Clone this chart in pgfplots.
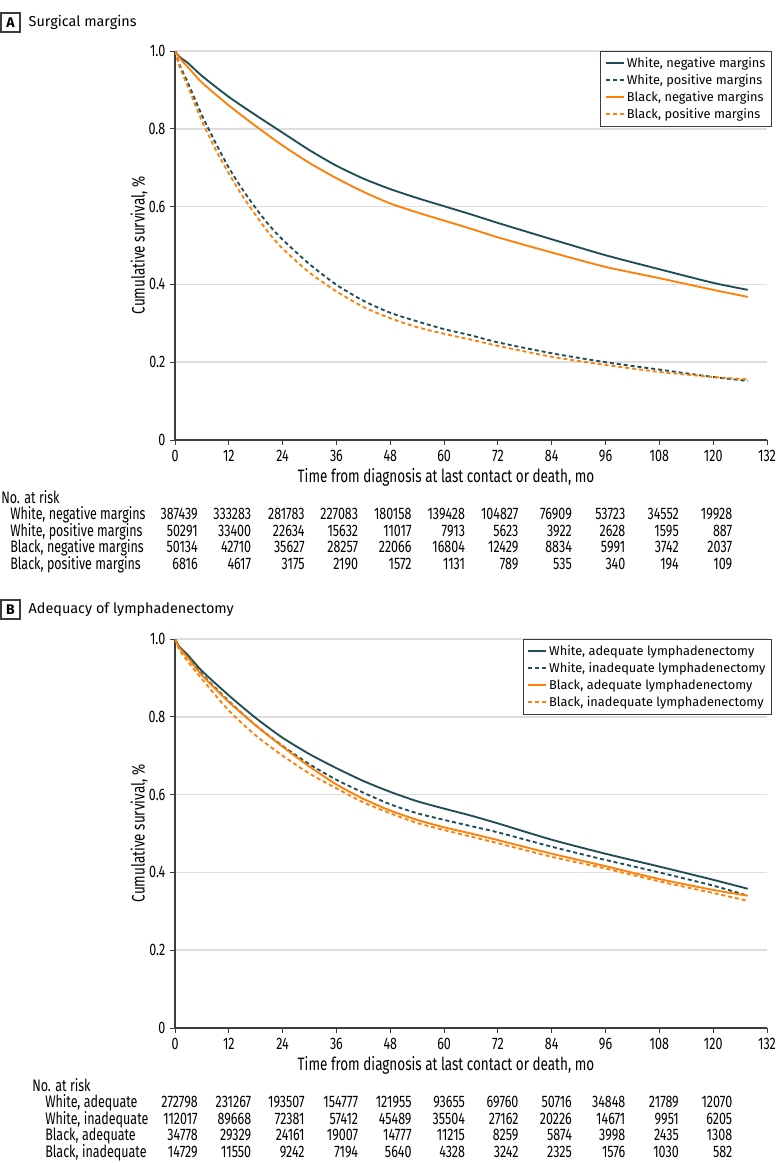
\documentclass[border=0pt]{standalone}
\usepackage{pgfplots}
\pgfplotsset{compat=1.18}
\usepackage{fontspec}
\setmainfont{Fira Sans}
\newfontfamily\condfont[FakeStretch=0.75]{Fira Sans}
\definecolor{wcol}{RGB}{32,78,86}
\definecolor{bcol}{RGB}{255,128,8}
\definecolor{gridc}{RGB}{222,222,222}
\definecolor{axc}{RGB}{60,60,60}
\newcommand\tfont{\condfont\fontsize{12.5}{13}\selectfont}
\newcommand\lfont{\condfont\fontsize{13.5}{14}\selectfont}

\pgfplotsset{
  kmstyle/.style={
    scale only axis, width=444pt, height=291.75pt,
    xmin=0, xmax=132, ymin=0, ymax=1,
    axis x line*=bottom, axis y line*=left,
    axis line style={axc, line width=0.8pt},
    xtick={0,12,...,132},
    xticklabels={0,12,24,36,48,60,72,84,96,108,120,132},
    ytick={0,0.2,0.4,0.6,0.8,1.0},
    yticklabels={0,0.2,0.4,0.6,0.8,1.0},
    /pgf/number format/assume math mode=true,
    tick align=outside, major tick length=3.75pt,
    tick style={axc, line width=0.7pt},
    ticklabel style={font=\tfont, text=black},
    ymajorgrids, grid style={gridc, line width=1.1pt},
    legend cell align=left,
    legend style={anchor=north east, at={(rel axis cs:1.0084,1)},
      draw=axc, line width=0.6pt, font=\fontsize{9.6}{11}\selectfont,
      inner xsep=3pt, inner ysep=3pt, row sep=0.6pt,
      nodes={inner sep=1.6pt}},
    legend image code/.code={\draw[#1, line width=1.6pt] (0pt,0.3pt) -- (13.5pt,0.3pt);},
  },
  wsolid/.style={wcol, line width=1.4pt, smooth, tension=0.4},
  wdash/.style={wcol, line width=1.4pt, dash pattern=on 3pt off 2.2pt, smooth, tension=0.4},
  bsolid/.style={bcol, line width=1.4pt, smooth, tension=0.4},
  bdash/.style={bcol, line width=1.4pt, dash pattern=on 3pt off 2.2pt, smooth, tension=0.4},
}

\begin{document}
\begin{tikzpicture}[x=0.75pt, y=-0.75pt]
\path[use as bounding box] (0,0) rectangle (783,1163);

% ---------------- Panel A ----------------
\draw[axc, line width=0.8pt] (1,13) rectangle (20,32);
\node[font=\bfseries\fontsize{10.5}{12}\selectfont] at (10.5,22.5) {A};
\node[anchor=west, font=\fontsize{10.8}{12}\selectfont] at (24,22.5) {Surgical margins};

\begin{axis}[kmstyle, at={(131.25pt,-330pt)}, anchor=south west]
\addplot[wsolid] coordinates {(0,1.0) (1,0.985) (3,0.968) (6,0.936) (12,0.882) (18,0.835) (24,0.790) (30,0.745) (36,0.705) (42,0.672) (48,0.645) (54,0.622) (60,0.601) (66,0.580) (72,0.558) (84,0.516) (96,0.475) (108,0.439) (120,0.404) (127.7,0.386)};
\addlegendentry{White, negative margins}
\addplot[wdash] coordinates {(0,1.0) (1,0.965) (3,0.915) (6,0.835) (9,0.765) (12,0.700) (15,0.645) (18,0.596) (21,0.552) (24,0.515) (30,0.452) (36,0.399) (42,0.358) (48,0.327) (54,0.305) (60,0.285) (66,0.269) (72,0.251) (84,0.223) (96,0.200) (108,0.181) (120,0.162) (127.7,0.152)};
\addlegendentry{White, positive margins}
\addplot[bsolid] coordinates {(0,1.0) (1,0.982) (3,0.957) (6,0.919) (12,0.860) (18,0.807) (24,0.757) (30,0.712) (36,0.673) (42,0.638) (48,0.608) (54,0.585) (60,0.564) (66,0.543) (72,0.521) (84,0.482) (96,0.445) (108,0.416) (120,0.386) (127.7,0.368)};
\addlegendentry{Black, negative margins}
\addplot[bdash] coordinates {(0,1.0) (1,0.960) (3,0.905) (6,0.820) (9,0.748) (12,0.685) (15,0.628) (18,0.578) (21,0.531) (24,0.492) (30,0.430) (36,0.382) (42,0.342) (48,0.313) (54,0.290) (60,0.273) (66,0.258) (72,0.242) (84,0.214) (96,0.193) (108,0.175) (120,0.162) (127.7,0.156)};
\addlegendentry{Black, positive margins}
\end{axis}

\node[rotate=90, font=\lfont] at (139,245.5) {Cumulative survival, \%};
\node[font=\lfont] at (446,477) {Time from diagnosis at last contact or death, mo};

\begin{scope}[every node/.style={font=\tfont, inner sep=0pt}]
\node[anchor=base west] at (1,503) {No. at risk};
\node[anchor=base west] at (10,519.5) {White, negative margins};
\node[anchor=base west] at (10,536) {White, positive margins};
\node[anchor=base west] at (10,552.5) {Black, negative margins};
\node[anchor=base west] at (10,569) {Black, positive margins};
\foreach \v [count=\i from 0] in {387439,333283,281783,227083,180158,139428,104827,76909,53723,34552,19928}
  \node[anchor=base east] at ({198+53.45*\i},519.5) {\v};
\foreach \v [count=\i from 0] in {50291,33400,22634,15632,11017,7913,5623,3922,2628,1595,887}
  \node[anchor=base east] at ({198+53.45*\i},536) {\v};
\foreach \v [count=\i from 0] in {50134,42710,35627,28257,22066,16804,12429,8834,5991,3742,2037}
  \node[anchor=base east] at ({198+53.45*\i},552.5) {\v};
\foreach \v [count=\i from 0] in {6816,4617,3175,2190,1572,1131,789,535,340,194,109}
  \node[anchor=base east] at ({198+53.45*\i},569) {\v};
\end{scope}

% ---------------- Panel B ----------------
\draw[axc, line width=0.8pt] (1,600) rectangle (20,619);
\node[font=\bfseries\fontsize{10.5}{12}\selectfont] at (10.5,609.5) {B};
\node[anchor=west, font=\fontsize{10.8}{12}\selectfont] at (24,609.5) {Adequacy of lymphadenectomy};

\begin{axis}[kmstyle, at={(131.25pt,-771pt)}, anchor=south west]
\addplot[wsolid] coordinates {(0,1.0) (1,0.980) (3,0.957) (6,0.918) (12,0.855) (18,0.797) (24,0.746) (30,0.704) (36,0.668) (42,0.635) (48,0.607) (54,0.583) (60,0.564) (66,0.546) (72,0.526) (84,0.484) (96,0.448) (108,0.415) (120,0.381) (127.7,0.358)};
\addlegendentry{White, adequate lymphadenectomy}
\addplot[wdash] coordinates {(0,1.0) (1,0.978) (3,0.952) (6,0.910) (12,0.840) (18,0.778) (24,0.725) (30,0.678) (36,0.638) (42,0.605) (48,0.575) (54,0.552) (60,0.535) (66,0.519) (72,0.503) (84,0.466) (96,0.432) (108,0.400) (120,0.366) (127.7,0.340)};
\addlegendentry{White, inadequate lymphadenectomy}
\addplot[bsolid] coordinates {(0,1.0) (1,0.977) (3,0.950) (6,0.907) (12,0.838) (18,0.778) (24,0.723) (30,0.672) (36,0.626) (42,0.589) (48,0.559) (54,0.535) (60,0.516) (66,0.500) (72,0.483) (84,0.448) (96,0.416) (108,0.383) (120,0.355) (127.7,0.340)};
\addlegendentry{Black, adequate lymphadenectomy}
\addplot[bdash] coordinates {(0,1.0) (1,0.972) (3,0.940) (6,0.897) (12,0.816) (18,0.752) (24,0.700) (30,0.654) (36,0.616) (42,0.580) (48,0.552) (54,0.527) (60,0.509) (66,0.492) (72,0.475) (84,0.440) (96,0.410) (108,0.377) (120,0.347) (127.7,0.327)};
\addlegendentry{Black, inadequate lymphadenectomy}
\end{axis}

\node[rotate=90, font=\lfont] at (139,833.5) {Cumulative survival, \%};
\node[font=\lfont] at (446,1065) {Time from diagnosis at last contact or death, mo};

\begin{scope}[every node/.style={font=\tfont, inner sep=0pt}]
\node[anchor=base west] at (32,1091) {No. at risk};
\node[anchor=base west] at (45,1107.5) {White, adequate};
\node[anchor=base west] at (45,1124) {White, inadequate};
\node[anchor=base west] at (45,1140.5) {Black, adequate};
\node[anchor=base west] at (45,1157) {Black, inadequate};
\foreach \v [count=\i from 0] in {272798,231267,193507,154777,121955,93655,69760,50716,34848,21789,12070}
  \node[anchor=base east] at ({198+53.45*\i},1107.5) {\v};
\foreach \v [count=\i from 0] in {112017,89668,72381,57412,45489,35504,27162,20226,14671,9951,6205}
  \node[anchor=base east] at ({198+53.45*\i},1124) {\v};
\foreach \v [count=\i from 0] in {34778,29329,24161,19007,14777,11215,8259,5874,3998,2435,1308}
  \node[anchor=base east] at ({198+53.45*\i},1140.5) {\v};
\foreach \v [count=\i from 0] in {14729,11550,9242,7194,5640,4328,3242,2325,1576,1030,582}
  \node[anchor=base east] at ({198+53.45*\i},1157) {\v};
\end{scope}
\end{tikzpicture}
\end{document}
